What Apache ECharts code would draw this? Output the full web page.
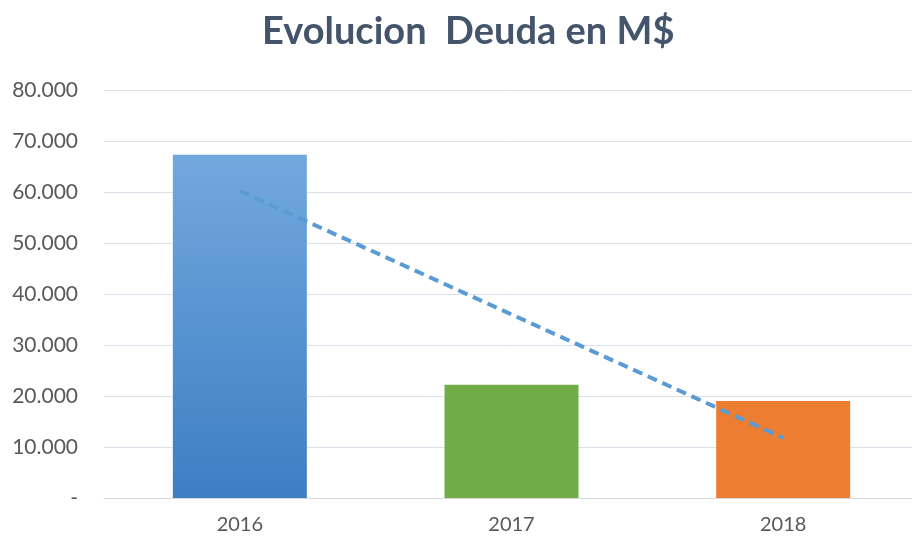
<!DOCTYPE html>
<html>
<head>
<meta charset="utf-8">
<script src="https://cdn.jsdelivr.net/npm/echarts@6/dist/echarts.min.js"></script>
<style>
  html, body { margin: 0; padding: 0; background: #fff; overflow: hidden; }
  /* plot area runs a few px past the right edge in the original */
  #chart { width: 919px; height: 538px; }
</style>
</head>
<body>
<div id="chart"></div>
<script>
// values
const years = ['2016', '2017', '2018']
const deuda = [67300, 22200, 19000]
const tendencia = [60200, 36000, 11800]
const barColors = [
  new echarts.graphic.LinearGradient(0, 0, 0, 1, [
    { offset: 0, color: '#72a8de' },
    { offset: 1, color: '#3d7ec3' }
  ]),
  '#70ad47',
  '#ed7d31'
]

const fmt = v => v === 0 ? '-' : v.toLocaleString('de-DE')

const chart = echarts.init(document.getElementById('chart'))
const option = {
  backgroundColor: '#fff',
  animation: false,
  title: {
    text: 'Evolucion  Deuda en M$',
    left: 257,
    top: 8,
    textStyle: {
      fontFamily: 'Lato',
      fontWeight: 'bold',
      fontSize: 38,
      color: '#44546a'
    }
  },
  grid: {
    left: 104,
    right: 0,
    top: 90,
    bottom: 40
  },
  xAxis: {
    type: 'category',
    data: years,
    axisLine: { lineStyle: { color: '#d9d9d9', width: 1 } },
    axisTick: { show: false },
    axisLabel: {
      fontFamily: 'Lato',
      fontSize: 20,
      color: '#595959',
      margin: 17
    }
  },
  yAxis: {
    type: 'value',
    min: 0,
    max: 80000,
    interval: 10000,
    axisLine: { show: false },
    axisTick: { show: false },
    splitLine: { lineStyle: { color: '#d9e1ea', width: 1 } },
    axisLabel: {
      formatter: fmt,
      fontFamily: 'Lato',
      fontSize: 21,
      color: '#595959',
      margin: 26
    }
  },
  series: [
    {
      name: 'Deuda',
      type: 'bar',
      barWidth: 134,
      data: deuda.map((v, i) => ({
        value: v,
        itemStyle: { color: barColors[i] }
      }))
    },
    {
      name: 'Tendencia',
      type: 'line',
      data: tendencia,
      symbol: 'none',
      z: 5,
      lineStyle: {
        color: '#5b9bd5',
        width: 4,
        type: [10, 6]
      }
    }
  ]
}
chart.setOption(option)
</script>
</body>
</html>
